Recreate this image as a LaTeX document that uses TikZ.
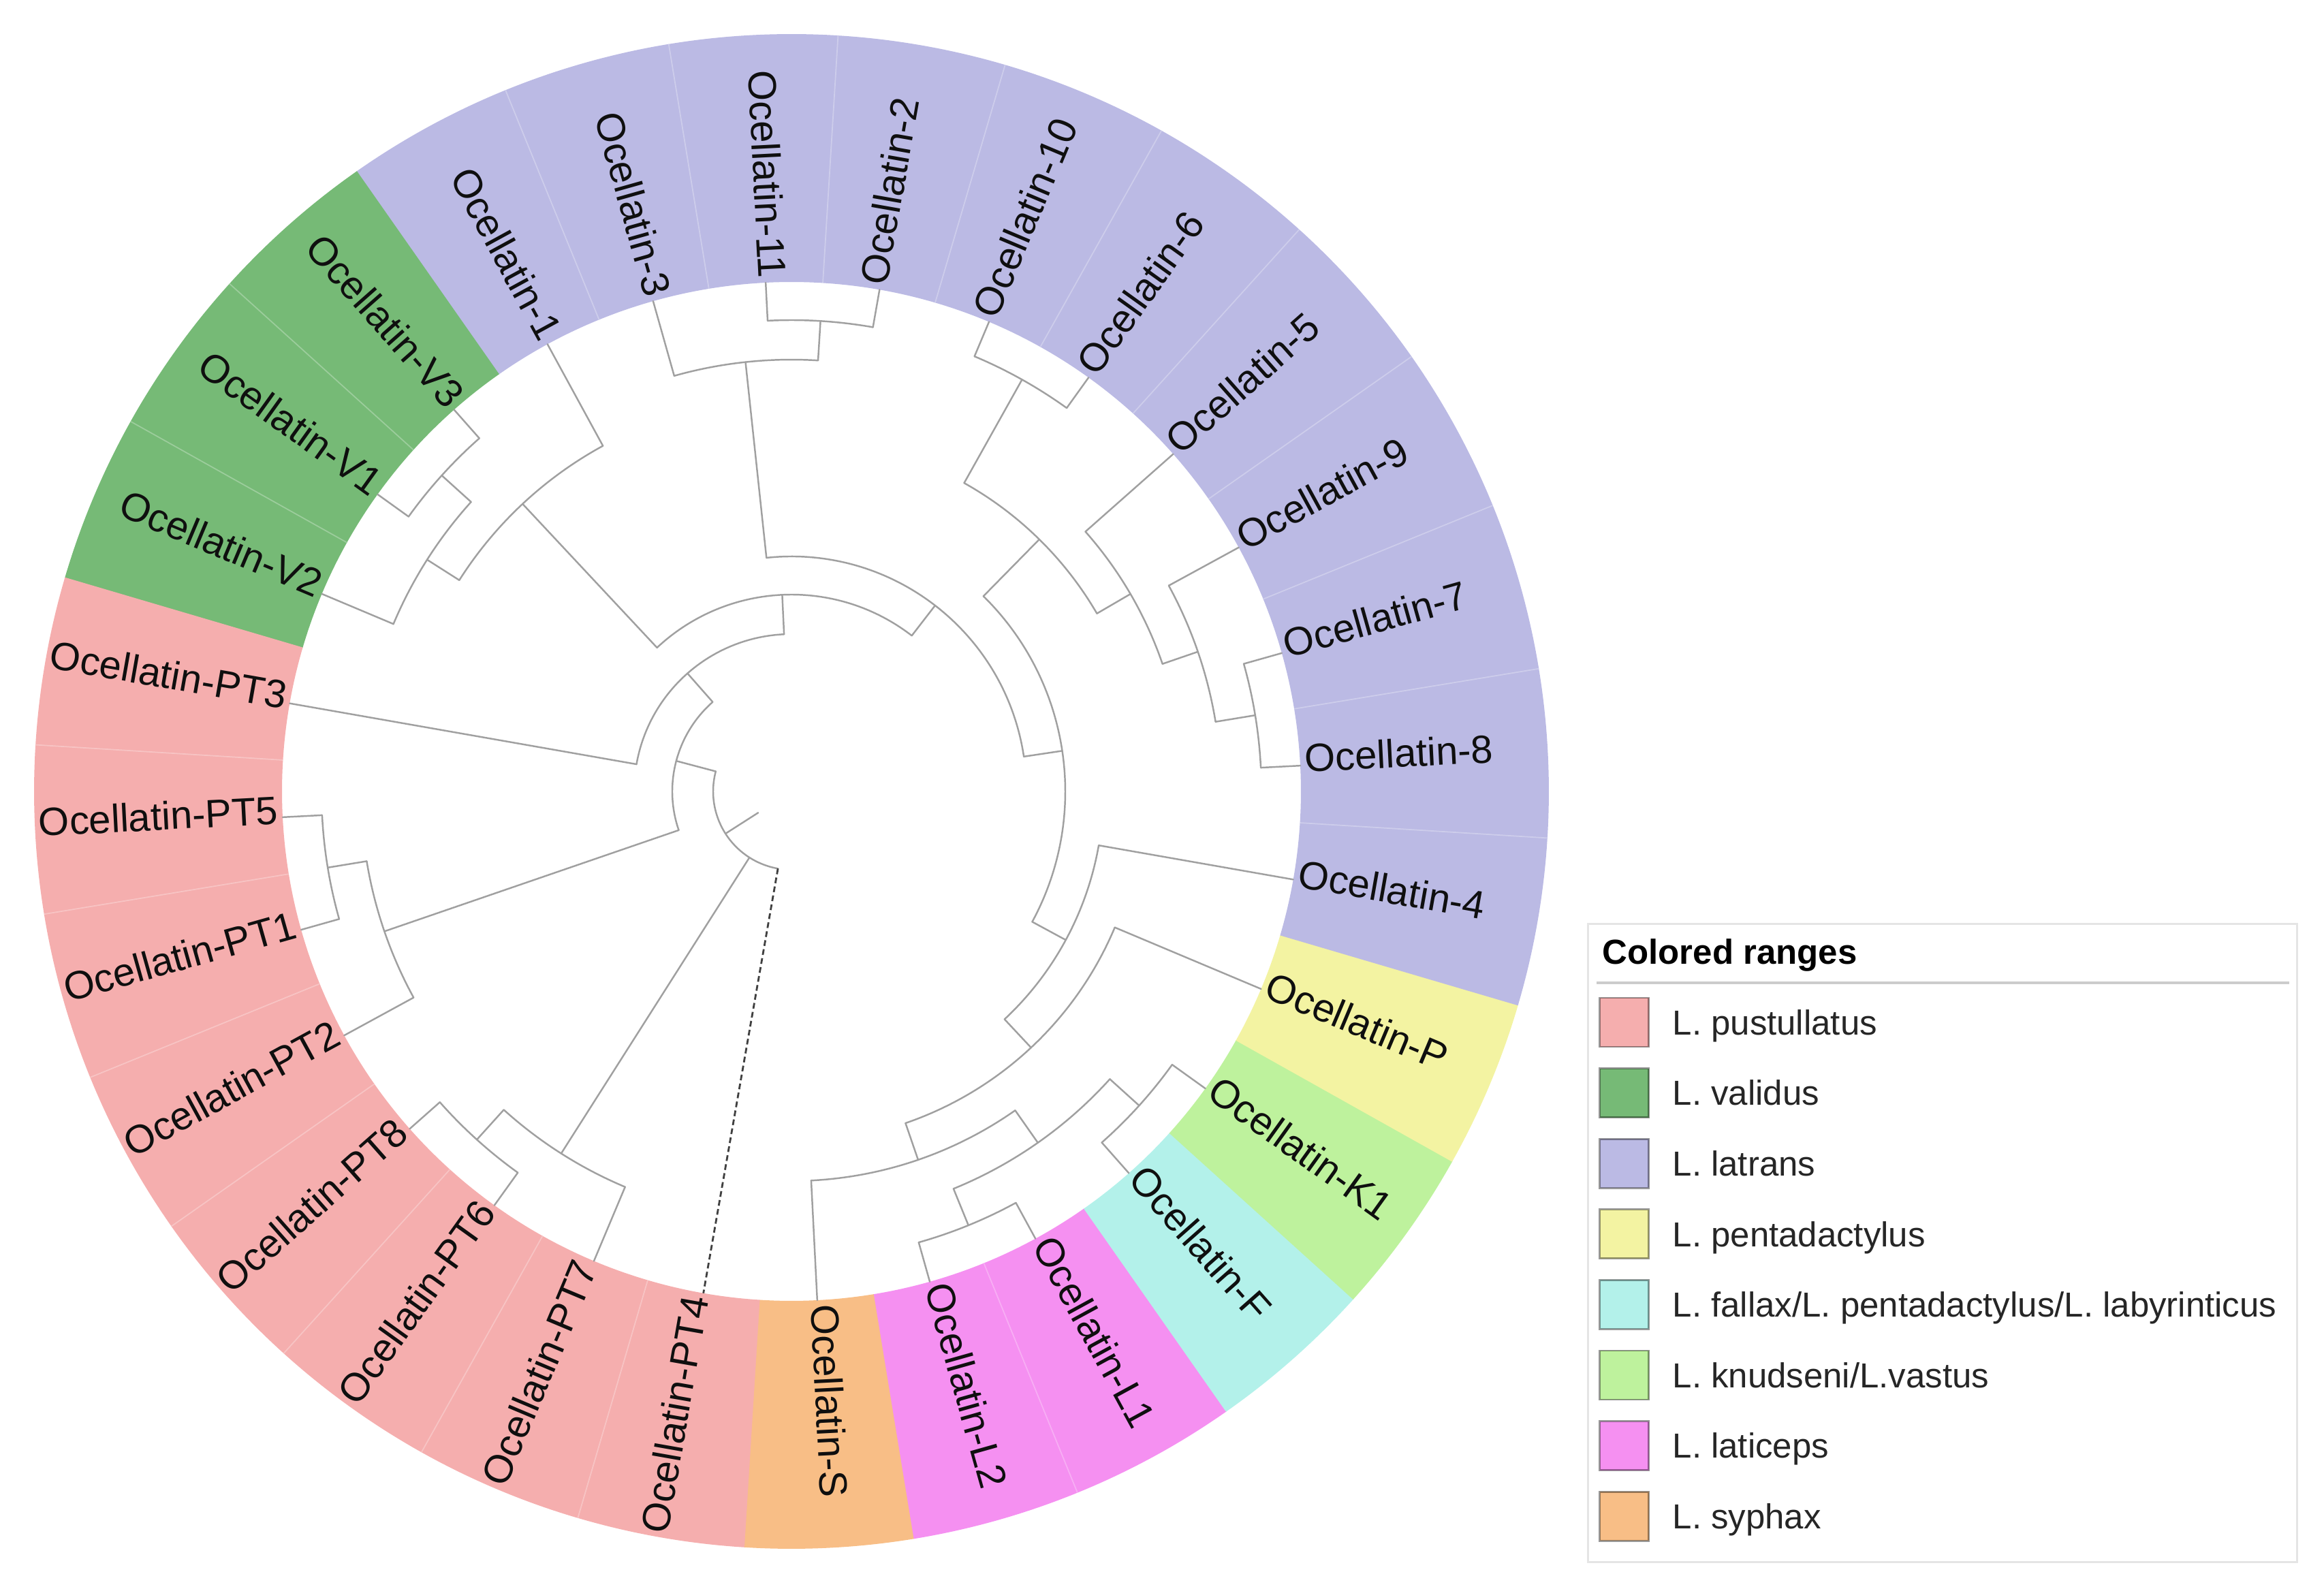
\documentclass[tikz,border=0pt]{standalone}
\usepackage{fontspec}
\setmainfont{Liberation Sans}
\definecolor{cpust}{RGB}{245,174,174}
\definecolor{cvalid}{RGB}{118,186,118}
\definecolor{clatr}{RGB}{187,186,228}
\definecolor{cpenta}{RGB}{243,243,162}
\definecolor{cfallax}{RGB}{179,241,234}
\definecolor{cknud}{RGB}{190,242,157}
\definecolor{clati}{RGB}{245,144,241}
\definecolor{csyph}{RGB}{248,190,134}
\definecolor{treegray}{RGB}{160,160,160}
\definecolor{inkc}{RGB}{15,15,15}
\begin{document}
\begin{tikzpicture}[
  treeline/.style={draw=treegray, line width=0.7pt, line cap=round},
  tipdash/.style={draw=black!75, line width=0.8pt, dash pattern=on 2.4pt off 1.4pt},
  leaflabel/.style={font=\fontsize{16.5}{19}\selectfont, text=inkc, inner sep=0pt, text height=0.56em, text depth=0pt},
  legtext/.style={font=\fontsize{14.5}{17}\selectfont, text=black!85, inner sep=0pt, anchor=base west},
  swatch/.style={draw=black, draw opacity=0.4, line width=0.8pt, minimum size=0.72cm, inner sep=0pt},
  sepline/.style={draw=white, draw opacity=0.28, line width=0.5pt}
]
\useasboundingbox (-11.62,-11.71) rectangle (22.50,11.62);
\def\Rin{7.48}
\def\Rout{11.12}
\def\Rlab{7.54}
% coloured sectors
\foreach \i/\col in {0/clatr,1/clatr,2/clatr,3/clatr,4/clatr,5/clatr,6/clatr,7/clatr,8/clatr,9/clatr,
  10/cvalid,11/cvalid,12/cvalid,13/cpust,14/cpust,15/cpust,16/cpust,17/cpust,18/cpust,19/cpust,20/cpust,
  21/csyph,22/clati,23/clati,24/cfallax,25/cknud,26/cpenta,27/clatr} {
  \pgfmathsetmacro\aa{2.9+12.857143*\i-6.46}
  \pgfmathsetmacro\ab{2.9+12.857143*\i+6.46}
  \fill[\col] (\aa:\Rin) arc[start angle=\aa, end angle=\ab, radius=\Rin] -- (\ab:\Rout)
     arc[start angle=\ab, end angle=\aa, radius=\Rout] -- cycle;
}
% faint separators between same-coloured sectors
\foreach \i in {27,0,1,2,3,4,5,6,7,8,10,11,13,14,15,16,17,18,19,22} {
  \pgfmathsetmacro\ab{2.9+12.857143*\i+6.428571}
  \draw[sepline] (\ab:\Rin) -- (\ab:\Rout);
}
% tree nodes
\foreach \n/\t/\r in {root/212.607/1.15, rootbase/212.607/0.58, pt4base/260.043/1.15,
  n175/165.171/1.75, nPT7/237.543/6.30, n231/131.37/2.31, n632/198.971/6.32,
  n289/92.698/2.89, n578/133.079/5.78, a345/52.318/3.45, n3/96.11/6.34, n402/8.525/4.02,
  n112/86.47/6.92, n519/45.489/5.19, n458/-28.439/4.58, n106/60.757/6.93, n576/30.221/5.76,
  n631/18.971/6.31, n78/9.329/6.90, n515/-46.921/5.15, n572/-71.029/5.72, n630/-54.957/6.30,
  nL/-67.814/6.88, nKF/-42.1/6.88, n634/147.543/6.34, nV/137.9/6.92, nPT51/189.329/6.90,
  nPT86/227.9/6.89} {
  \coordinate (\n) at (\t:\r);
}
\foreach \i in {0,...,27} {
  \pgfmathsetmacro\a{2.9+12.857143*\i}
  \coordinate (tip\i) at (\a:\Rin);
}
% arcs of the clades
\foreach \r/\ta/\tb in {1.15/165.171/260.043, 1.75/131.37/198.971, 2.31/92.698/170.043,
  2.89/52.318/133.079, 3.45/8.525/96.11, 6.34/86.47/105.757, 6.92/80.043/92.9,
  4.02/-28.439/45.489, 5.19/30.221/60.757, 6.93/54.329/67.186, 5.76/18.971/41.471,
  6.31/9.329/28.614, 6.90/2.9/15.757, 4.58/-46.921/-9.957, 5.15/-71.029/-22.814,
  5.72/-87.1/-54.957, 6.30/-67.814/-42.1, 6.88/-74.243/-61.386, 6.88/-48.529/-35.671,
  5.78/118.614/147.543, 6.34/137.9/157.186, 6.92/131.471/144.329, 6.32/189.329/208.614,
  6.90/182.9/195.757, 6.30/227.9/247.186, 6.89/221.471/234.329} {
  \draw[treeline] (\ta:\r) arc[start angle=\ta, end angle=\tb, radius=\r];
}
% radial branches: child / angle / parent radius
\foreach \c/\t/\rp in {n175/165.171/1.15, nPT7/237.543/1.15, n231/131.37/1.75, n632/198.971/1.75,
  n289/92.698/2.31, tip13/170.043/2.31, n578/133.079/2.89, a345/52.318/2.89, n3/96.11/3.45,
  n402/8.525/3.45, tip8/105.757/6.34, n112/86.47/6.34, tip7/92.9/6.92, tip6/80.043/6.92,
  n519/45.489/4.02, n458/-28.439/4.02, n106/60.757/5.19, n576/30.221/5.19, tip5/67.186/6.93,
  tip4/54.329/6.93, tip3/41.471/5.76, n631/18.971/5.76, tip2/28.614/6.31, n78/9.329/6.31,
  tip1/15.757/6.90, tip0/2.9/6.90, tip27/-9.957/4.58, n515/-46.921/4.58, tip26/-22.814/5.15,
  n572/-71.029/5.15, tip21/-87.1/5.72, n630/-54.957/5.72, nL/-67.814/6.30, nKF/-42.1/6.30,
  tip22/-74.243/6.88, tip23/-61.386/6.88, tip24/-48.529/6.88, tip25/-35.671/6.88,
  tip9/118.614/5.78, n634/147.543/5.78, nV/137.9/6.34, tip12/157.186/6.34, tip10/131.471/6.92,
  tip11/144.329/6.92, nPT51/189.329/6.32, tip16/208.614/6.32, tip14/182.9/6.90,
  tip15/195.757/6.90, nPT86/227.9/6.30, tip19/247.186/6.30, tip17/221.471/6.89,
  tip18/234.329/6.89} {
  \draw[treeline] (\t:\rp) -- (\c);
}
\draw[treeline] (rootbase) -- (root);
\draw[tipdash] (pt4base) -- (tip20);
% leaf labels
\foreach \i/\name in {0/Ocellatin-8, 1/Ocellatin-7, 2/Ocellatin-9, 3/Ocellatin-5, 4/Ocellatin-6,
  5/Ocellatin-10, 6/Ocellatin-2, 7/Ocellatin-11, 8/Ocellatin-3, 9/Ocellatin-1, 10/Ocellatin-V3,
  11/Ocellatin-V1, 12/Ocellatin-V2, 13/Ocellatin-PT3, 14/Ocellatin-PT5, 15/Ocellatin-PT1,
  16/Ocellatin-PT2, 17/Ocellatin-PT8, 18/Ocellatin-PT6, 19/Ocellatin-PT7, 20/Ocellatin-PT4,
  21/Ocellatin-S, 22/Ocellatin-L2, 23/Ocellatin-L1, 24/Ocellatin-F, 25/Ocellatin-K1,
  26/Ocellatin-P, 27/Ocellatin-4} {
  \pgfmathsetmacro\a{2.9+12.857143*\i}
  \pgfmathtruncatemacro\side{cos(\a)>0 ? 1 : 0}
  \ifnum\side=1
    \node[leaflabel, anchor=west, rotate=\a] (lab\i) at (\a:\Rlab) {\name};
  \else
    \pgfmathsetmacro\b{\a-180}
    \node[leaflabel, anchor=east, rotate=\b] (lab\i) at (\a:\Rlab) {\name};
  \fi
}
% legend
\node[draw=black!10, line width=0.8pt, fill=white, minimum width=10.41cm, minimum height=9.37cm,
  anchor=north west, inner sep=0pt] (legend) at (11.68,-1.93) {};
\node[legtext, font=\fontsize{14.5}{17}\selectfont\bfseries, text=black] (legtitle) at (11.90,-2.54) {Colored ranges};
\coordinate (sepL) at (11.82,-2.81);
\coordinate (sepR) at (21.99,-2.81);
\draw[black!20, line width=0.9pt] (sepL) -- (sepR);
\foreach \k/\col/\txt in {0/cpust/{L. pustullatus}, 1/cvalid/{L. validus}, 2/clatr/{L. latrans},
  3/cpenta/{L. pentadactylus}, 4/cfallax/{L. fallax/L. pentadactylus/L. labyrinticus},
  5/cknud/{L. knudseni/L.vastus}, 6/clati/{L. laticeps}, 7/csyph/{L. syphax}} {
  \pgfmathsetmacro\y{-3.39-1.036*\k}
  \node[swatch, fill=\col] (sw\k) at (12.225,\y) {};
  \node[legtext] (lt\k) at (12.93,\y-0.183) {\txt};
}
\end{tikzpicture}
\end{document}
